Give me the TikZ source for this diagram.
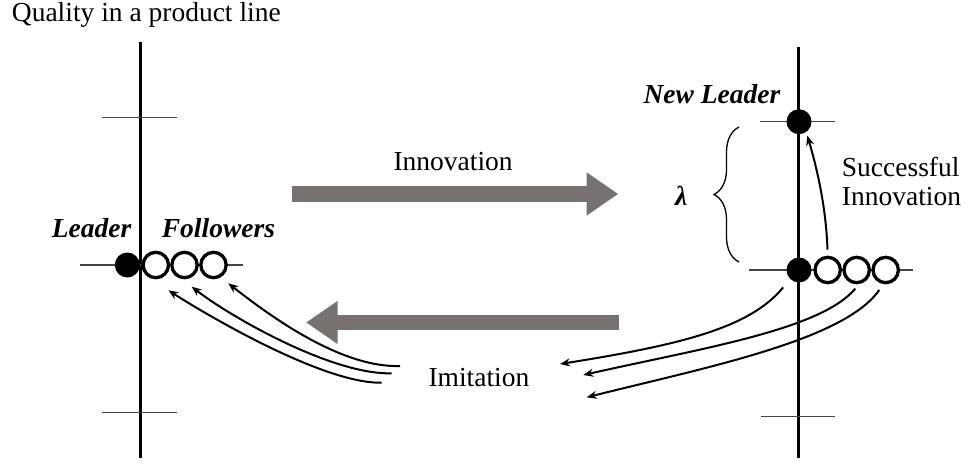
\documentclass[tikz,border=0pt]{standalone}
\usepackage{fontspec}
\setmainfont{Liberation Serif}
\usetikzlibrary{arrows.meta,decorations.pathreplacing}
\definecolor{flowgray}{RGB}{119,114,112}
\definecolor{tickgray}{RGB}{70,70,70}
\newcommand{\lblfont}{\fontsize{27.5}{28.3}\selectfont}
\begin{document}
\begin{tikzpicture}[x=1pt, y=-1pt,
    every node/.style={font=\lblfont, inner sep=0pt},
    tag/.style={font=\lblfont\bfseries\itshape, anchor=base west},
    axis/.style={line width=3.3pt},
    tick/.style={line width=1.3pt, draw=tickgray},
    firm/.style={circle, minimum size=25pt, fill=black},
    follower/.style={circle, minimum size=25.4pt, draw=black, line width=3.3pt, fill=white},
    flow/.style={line width=15.7pt, draw=flowgray, -{Triangle[length=31.7pt,width=41pt]}},
    imit/.style={line width=2pt, -{Stealth[length=10pt,width=8pt]}}]
    \useasboundingbox (0,0) rectangle (969,468);

    % quality axes and levels
    \draw[axis] (140.7,42) -- (140.7,458);
    \draw[axis] (798.5,47) -- (798.5,458);
    \draw[tick] (101.7,117.7) -- (176.7,117.7);
    \draw[tick] (80,265) -- (242.7,265);
    \draw[tick] (102,412.7) -- (177,412.7);
    \draw[tick] (760,121.7) -- (835,121.7);
    \draw[tick] (749,270) -- (913,270);
    \draw[tick] (760.7,416.7) -- (835,416.7);

    % firms
    \node[firm] (ll) at (127.3,265) {};
    \node[follower] (lf1) at (155.8,265) {};
    \node[follower] (lf2) at (184.5,265) {};
    \node[follower] (lf3) at (213.5,265) {};
    \node[firm] (rl) at (799,270) {};
    \node[follower] (rf1) at (827.7,270) {};
    \node[follower] (rf2) at (856.7,270) {};
    \node[follower] (rf3) at (885.7,270) {};
    \node[firm] (nl) at (799,121.7) {};

    % labels
    \node[anchor=base west] (title) at (11.7,21.7) {Quality in a product line};
    \node[tag] (leader) at (51.7,237.3) {Leader};
    \node[tag] (followers) at (161.7,237.3) {Followers};
    \node[tag] (newleader) at (643.3,103.3) {New Leader};
    \node[tag] (lambda) at (675,205) {λ};
    \node[anchor=base west] (innov) at (393.3,170) {Innovation};
    \node[anchor=base west] (imit) at (428.3,386.7) {Imitation};
    \node[anchor=base west, align=left] (success) at (841.7,205) {Successful\\Innovation};

    % gap between the two leaders
    \draw[decorate, decoration={brace, amplitude=25pt}, line width=1.3pt] (739,262) -- (739,127);

    % big gray arrows
    \coordinate (innovS) at (291.7,194);
    \coordinate (innovE) at (618.3,194);
    \coordinate (imitS) at (619,322.5);
    \coordinate (imitE) at (306,322.5);
    \draw[flow] (innovS) -- (innovE);
    \draw[flow] (imitS) -- (imitE);

    % successful innovation
    \draw[imit, shorten <=6pt, shorten >=3.7pt] (rf1.north) .. controls (826,205) and (816,165) .. (nl.-55);

    % imitation towards the followers
    \coordinate (imL1) at (400,366);
    \coordinate (imL2) at (391.7,373.3);
    \coordinate (imL3) at (381.7,382.7);
    \draw[imit, shorten >=9.6pt] (imL1) .. controls (340,368) and (268,314.4) .. (lf3.-60);
    \draw[imit, shorten >=12.3pt] (imL2) .. controls (331.7,375) and (229.3,316) .. (lf2.-100);
    \draw[imit, shorten >=23.6pt] (imL3) .. controls (321.7,384) and (198.9,310.1) .. (lf1.-120);

    % imitation away from the new leader
    \coordinate (imR1) at (560,364);
    \coordinate (imR2) at (583.3,375);
    \coordinate (imR3) at (586.7,397.3);
    \draw[imit, shorten <=10.9pt] (rl.225) .. controls (750,328) and (680,345) .. (imR1);
    \draw[imit, shorten <=6pt] (rf2.-80) .. controls (820,330) and (703,348) .. (imR2);
    \draw[imit, shorten <=7pt] (rf3.-100) .. controls (845,340) and (706.7,367.3) .. (imR3);

\end{tikzpicture}
\end{document}
